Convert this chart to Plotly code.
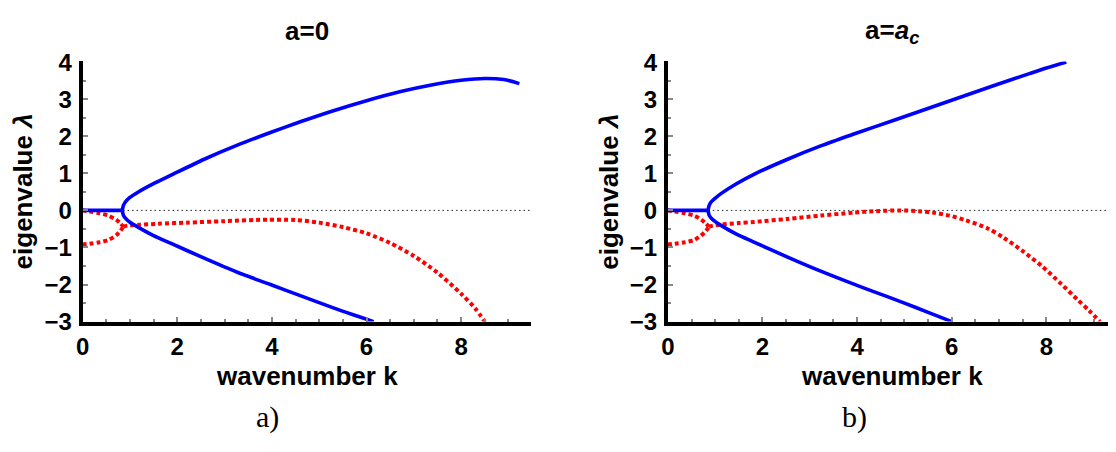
import plotly.graph_objects as go
from plotly.subplots import make_subplots

# The page body keeps its default 8px margin, so the figure is drawn 8px smaller
# and every pixel position below is the reference position minus 8.
OFF = 8
W, H = 1116 - OFF, 452 - OFF

# ---------------- Panel a) a = 0 ----------------
a0_blue_flat_k = [0.0, 0.84]
a0_blue_flat_l = [0.0, 0.0]
a0_blue_up_k = [0.84, 0.86, 0.9, 1.0, 1.17, 1.5, 1.87, 2.57, 3.27, 3.97, 4.6, 5.3, 6.0, 6.7, 7.4, 8.0, 8.5, 8.9, 9.23]
a0_blue_up_l = [0.0, 0.12, 0.22, 0.35, 0.49, 0.72, 0.95, 1.38, 1.76, 2.1, 2.39, 2.69, 2.96, 3.2, 3.39, 3.51, 3.56, 3.53, 3.42]
a0_blue_lo_k = [0.84, 0.86, 0.9, 1.0, 1.17, 1.5, 1.87, 2.57, 3.27, 3.97, 4.6, 5.3, 5.8, 6.15]
a0_blue_lo_l = [0.0, -0.12, -0.2, -0.32, -0.45, -0.68, -0.89, -1.29, -1.67, -2.0, -2.3, -2.63, -2.85, -3.0]
a0_red_top_k = [0.0, 0.15, 0.36, 0.54, 0.71, 0.8, 0.86]
a0_red_top_l = [0.0, -0.03, -0.08, -0.14, -0.25, -0.35, -0.44]
a0_red_bot_k = [0.0, 0.15, 0.36, 0.54, 0.71, 0.8, 0.86]
a0_red_bot_l = [-0.92, -0.9, -0.86, -0.8, -0.67, -0.55, -0.44]
a0_red_mid_k = [0.86, 0.95, 1.2, 1.6, 2.2, 3.0, 3.9, 4.5, 5.0, 5.5, 6.0, 6.5, 7.0, 7.5, 8.0, 8.3, 8.5]
a0_red_mid_l = [-0.44, -0.41, -0.39, -0.36, -0.33, -0.29, -0.25, -0.26, -0.33, -0.45, -0.62, -0.88, -1.23, -1.68, -2.25, -2.65, -3.0]

# ---------------- Panel b) a = a_c ----------------
ac_blue_flat_k = [0.0, 0.85]
ac_blue_flat_l = [0.0, 0.0]
ac_blue_up_k = [0.85, 0.87, 0.91, 1.01, 1.13, 1.45, 1.83, 2.53, 3.23, 3.93, 4.84, 5.54, 6.24, 6.94, 7.64, 8.0, 8.42]
ac_blue_up_l = [0.0, 0.12, 0.22, 0.34, 0.46, 0.72, 0.98, 1.38, 1.74, 2.06, 2.46, 2.77, 3.08, 3.39, 3.69, 3.84, 4.0]
ac_blue_lo_k = [0.85, 0.87, 0.91, 1.01, 1.13, 1.45, 1.83, 2.53, 3.23, 3.93, 4.35, 5.0, 5.5, 6.0]
ac_blue_lo_l = [0.0, -0.12, -0.2, -0.31, -0.41, -0.64, -0.86, -1.26, -1.64, -1.99, -2.19, -2.5, -2.75, -3.0]
ac_red_top_k = [0.0, 0.15, 0.36, 0.55, 0.7, 0.8, 0.87]
ac_red_top_l = [0.0, -0.03, -0.08, -0.14, -0.24, -0.35, -0.44]
ac_red_bot_k = [0.0, 0.15, 0.36, 0.55, 0.7, 0.8, 0.87]
ac_red_bot_l = [-0.92, -0.9, -0.86, -0.8, -0.68, -0.56, -0.44]
ac_red_mid_k = [0.87, 0.95, 1.13, 1.5, 1.83, 2.53, 3.23, 3.93, 4.4, 4.9, 5.3, 5.6, 5.95, 6.3, 6.75, 7.1, 7.5, 7.9, 8.3, 8.65, 8.9, 9.13]
ac_red_mid_l = [-0.44, -0.41, -0.38, -0.34, -0.31, -0.23, -0.14, -0.06, -0.02, 0.0, -0.02, -0.06, -0.14, -0.27, -0.48, -0.74, -1.1, -1.5, -1.97, -2.4, -2.7, -3.0]

# axis / labels
x_ticks = [0, 2, 4, 6, 8]
y_ticks = [-3, -2, -1, 0, 1, 2, 3, 4]
x_range = [0, 9.47]
y_range = [-3, 4.02]
panel_titles = ["<b>a=0</b>", "<b>a=<i>a</i><sub><i>c</i></sub></b>"]
panel_tags = ["a)", "b)"]
x_title = "<b>wavenumber k</b>"
y_title = "<b>eigenvalue <i>λ</i></b>"

BLUE = "#0000FF"
RED = "#FF0000"

fig = make_subplots(rows=1, cols=2)

panels = [
    dict(flat=(a0_blue_flat_k, a0_blue_flat_l), up=(a0_blue_up_k, a0_blue_up_l), lo=(a0_blue_lo_k, a0_blue_lo_l),
         rt=(a0_red_top_k, a0_red_top_l), rb=(a0_red_bot_k, a0_red_bot_l), rm=(a0_red_mid_k, a0_red_mid_l)),
    dict(flat=(ac_blue_flat_k, ac_blue_flat_l), up=(ac_blue_up_k, ac_blue_up_l), lo=(ac_blue_lo_k, ac_blue_lo_l),
         rt=(ac_red_top_k, ac_red_top_l), rb=(ac_red_bot_k, ac_red_bot_l), rm=(ac_red_mid_k, ac_red_mid_l)),
]

for i, p in enumerate(panels):
    col = i + 1
    for key in ["rt", "rb", "rm"]:
        kx, ly = p[key]
        fig.add_trace(go.Scatter(x=kx, y=ly, mode="lines",
                                 line=dict(color=RED, width=4, dash="4px,3px", shape="spline", smoothing=0.8),
                                 showlegend=False, hoverinfo="skip"), row=1, col=col)
    for key in ["flat", "up", "lo"]:
        kx, ly = p[key]
        fig.add_trace(go.Scatter(x=kx, y=ly, mode="lines",
                                 line=dict(color=BLUE, width=3.6, shape="spline", smoothing=0.8),
                                 showlegend=False, hoverinfo="skip"), row=1, col=col)
    fig.add_hline(y=0, line=dict(color="#222", width=1, dash="1.5px,3px"), row=1, col=col, layer="below")

# pixel layout (figure coordinates)
plot_left = [76 - OFF, 665 - OFF]
plot_w = 451
plot_top, plot_bot = 50.9 - OFF, 327.3 - OFF

axis_common = dict(showgrid=False, zeroline=False, showline=True, linecolor="black", linewidth=4,
                   ticks="inside", ticklen=5, tickwidth=2, tickcolor="#888")
tickfont = dict(family="Liberation Sans", size=24, color="black", weight="bold")

for i in range(2):
    xa = "xaxis" if i == 0 else "xaxis2"
    ya = "yaxis" if i == 0 else "yaxis2"
    fig.layout[xa].update(domain=[plot_left[i] / W, min(1.0, (plot_left[i] + plot_w) / W)], range=x_range,
                          tickvals=x_ticks, tickfont=tickfont, ticklabelstandoff=1,
                          minor=dict(dtick=0.5, ticks="inside", ticklen=3, tickcolor="#888", tickwidth=2),
                          **axis_common)
    fig.layout[ya].update(domain=[1 - plot_bot / H, 1 - plot_top / H], range=y_range,
                          tickvals=y_ticks, tickfont=tickfont, ticklabelstandoff=2,
                          minor=dict(dtick=0.5, ticks="inside", ticklen=3, tickcolor="#888", tickwidth=2),
                          **axis_common)

lab_font = dict(family="Liberation Sans", size=26, color="black")
tag_x = [262.6 - OFF, 852.5 - OFF]
ann = []
for i in range(2):
    cx = plot_left[i] + plot_w / 2
    ann.append(dict(text=panel_titles[i], x=cx / W, y=1 - (19 - OFF) / H, xref="paper", yref="paper",
                    xanchor="center", yanchor="middle", showarrow=False, font=lab_font))
    ann.append(dict(text=x_title, x=cx / W, y=1 - (385 - OFF) / H, xref="paper", yref="paper",
                    xanchor="center", yanchor="middle", showarrow=False, font=lab_font))
    ann.append(dict(text=y_title, x=(plot_left[i] - 59) / W, y=1 - (plot_top + plot_bot) / 2 / H,
                    xref="paper", yref="paper", xanchor="center", yanchor="middle", textangle=-90,
                    showarrow=False, font=lab_font))
    ann.append(dict(text=panel_tags[i], x=tag_x[i] / W, y=1 - (429 - OFF) / H, xref="paper", yref="paper",
                    xanchor="center", yanchor="middle", showarrow=False,
                    font=dict(family="Liberation Serif", size=30, color="black")))

fig.update_layout(width=W, height=H, margin=dict(l=0, r=0, t=0, b=0),
                  paper_bgcolor="white", plot_bgcolor="white", annotations=ann, showlegend=False)

fig.write_html("out.html")
